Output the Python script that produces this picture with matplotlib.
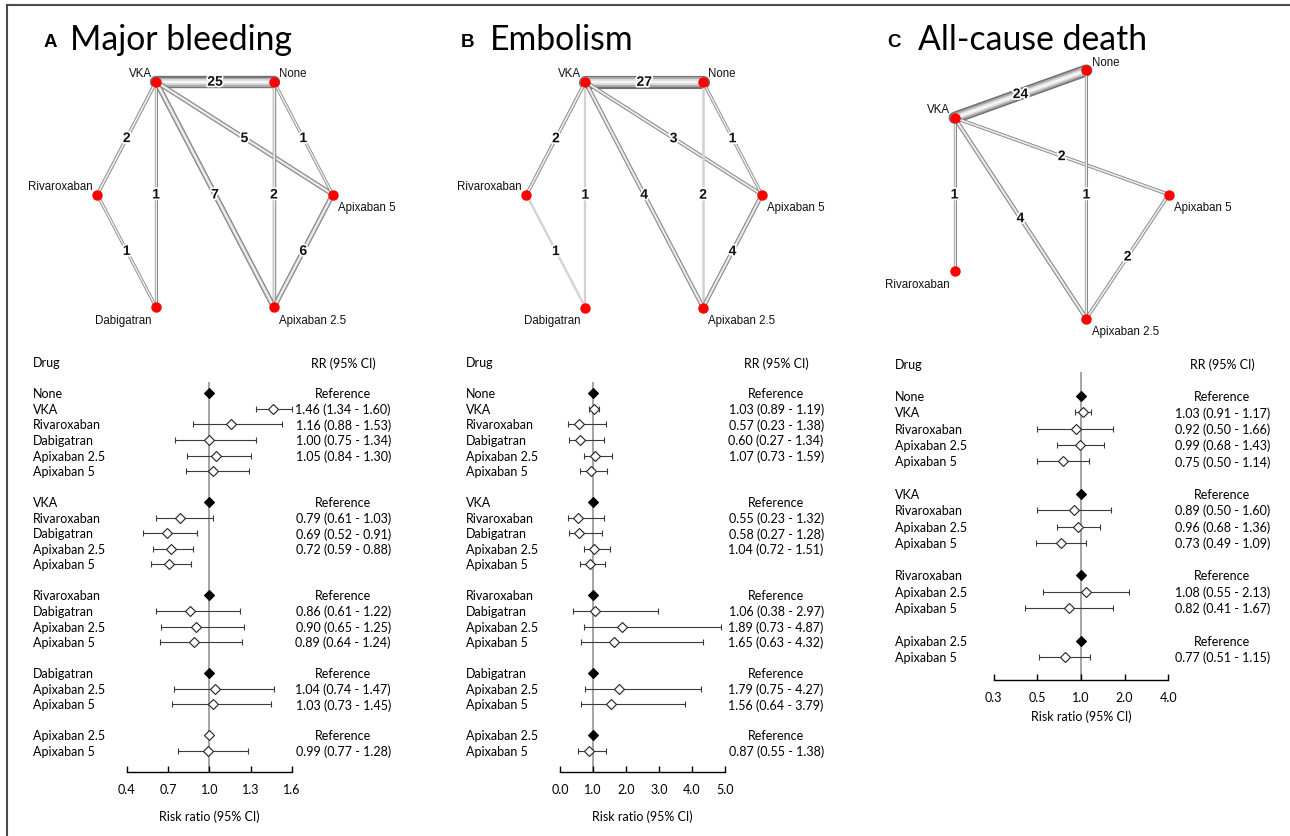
import matplotlib
matplotlib.use('Agg')
import matplotlib.pyplot as plt
import matplotlib.patheffects as pe
from matplotlib.lines import Line2D
from matplotlib.ticker import NullLocator
from matplotlib.transforms import blended_transform_factory
import numpy as np

W, H = 1290, 837
nan = np.nan
plt.rcParams['font.family'] = ['Lato', 'DejaVu Sans']
ARIAL = ['Liberation Sans', 'DejaVu Sans']

#%% network data
hex_names = ['VKA', 'None', 'Apixaban 5', 'Apixaban 2.5', 'Dabigatran', 'Rivaroxaban']
hex_x = [-0.5, 0.5, 1.0, 0.5, -0.5, -1.0]
hex_y = [1.0, 1.0, 0.0, -1.0, -1.0, 0.0]
hex_place = ['ul', 'ur', 'lr', 'lr', 'll', 'ul']

pairs_ab = [('VKA', 'None'), ('VKA', 'Rivaroxaban'), ('VKA', 'Dabigatran'), ('VKA', 'Apixaban 2.5'),
            ('VKA', 'Apixaban 5'), ('None', 'Apixaban 5'), ('None', 'Apixaban 2.5'),
            ('Rivaroxaban', 'Dabigatran'), ('Apixaban 5', 'Apixaban 2.5')]
studies_a = [25, 2, 1, 7, 5, 1, 2, 1, 6]
light_a = [0, 0, 0, 0, 0, 0, 0, 0, 0]
studies_b = [27, 2, 1, 4, 3, 1, 2, 1, 4]
light_b = [0, 0, 1, 0, 0, 0, 1, 1, 0]

c_names = ['None', 'VKA', 'Apixaban 5', 'Rivaroxaban', 'Apixaban 2.5']
c_x = [0.22, -0.9, 0.92, -0.9, 0.22]
c_y = [1.1, 0.68, 0.0, -0.68, -1.1]
c_place = ['ur', 'ul', 'lr', 'll', 'lr']
pairs_c = [('VKA', 'None'), ('VKA', 'Apixaban 5'), ('VKA', 'Rivaroxaban'), ('VKA', 'Apixaban 2.5'),
           ('None', 'Apixaban 2.5'), ('Apixaban 5', 'Apixaban 2.5')]
studies_c = [24, 2, 1, 4, 1, 2]
light_c = [0, 0, 0, 0, 0, 0]

#%% forest data  (kind: r = reference, o = reference open marker, e = estimate, n = estimate w/o text)
ab_rows = ['None', 'VKA', 'Rivaroxaban', 'Dabigatran', 'Apixaban 2.5', 'Apixaban 5', '',
           'VKA', 'Rivaroxaban', 'Dabigatran', 'Apixaban 2.5', 'Apixaban 5', '',
           'Rivaroxaban', 'Dabigatran', 'Apixaban 2.5', 'Apixaban 5', '',
           'Dabigatran', 'Apixaban 2.5', 'Apixaban 5', '',
           'Apixaban 2.5', 'Apixaban 5']

a_kind = ['r', 'e', 'e', 'e', 'e', 'n', '', 'r', 'e', 'e', 'e', 'n', '',
          'r', 'e', 'e', 'e', '', 'r', 'e', 'e', '', 'o', 'e']
a_rr = [1.00, 1.46, 1.16, 1.00, 1.05, 1.03, nan, 1.00, 0.79, 0.69, 0.72, 0.71, nan,
        1.00, 0.86, 0.90, 0.89, nan, 1.00, 1.04, 1.03, nan, 1.00, 0.99]
a_lo = [nan, 1.34, 0.88, 0.75, 0.84, 0.83, nan, nan, 0.61, 0.52, 0.59, 0.58, nan,
        nan, 0.61, 0.65, 0.64, nan, nan, 0.74, 0.73, nan, nan, 0.77]
a_hi = [nan, 1.60, 1.53, 1.34, 1.30, 1.29, nan, nan, 1.03, 0.91, 0.88, 0.87, nan,
        nan, 1.22, 1.25, 1.24, nan, nan, 1.47, 1.45, nan, nan, 1.28]

b_kind = ['r', 'e', 'e', 'e', 'e', 'n', '', 'r', 'e', 'e', 'e', 'n', '',
          'r', 'e', 'e', 'e', '', 'r', 'e', 'e', '', 'r', 'e']
b_rr = [1.00, 1.03, 0.57, 0.60, 1.07, 0.95, nan, 1.00, 0.55, 0.58, 1.04, 0.90, nan,
        1.00, 1.06, 1.89, 1.65, nan, 1.00, 1.79, 1.56, nan, 1.00, 0.87]
b_lo = [nan, 0.89, 0.23, 0.27, 0.73, 0.62, nan, nan, 0.23, 0.27, 0.72, 0.62, nan,
        nan, 0.38, 0.73, 0.63, nan, nan, 0.75, 0.64, nan, nan, 0.55]
b_hi = [nan, 1.19, 1.38, 1.34, 1.59, 1.41, nan, nan, 1.32, 1.28, 1.51, 1.35, nan,
        nan, 2.97, 4.87, 4.32, nan, nan, 4.27, 3.79, nan, nan, 1.38]

c_rows = ['None', 'VKA', 'Rivaroxaban', 'Apixaban 2.5', 'Apixaban 5', '',
          'VKA', 'Rivaroxaban', 'Apixaban 2.5', 'Apixaban 5', '',
          'Rivaroxaban', 'Apixaban 2.5', 'Apixaban 5', '',
          'Apixaban 2.5', 'Apixaban 5']
c_kind = ['r', 'e', 'e', 'e', 'e', '', 'r', 'e', 'e', 'e', '', 'r', 'e', 'e', '', 'r', 'e']
c_rr = [1.00, 1.03, 0.92, 0.99, 0.75, nan, 1.00, 0.89, 0.96, 0.73, nan,
        1.00, 1.08, 0.82, nan, 1.00, 0.77]
c_lo = [nan, 0.91, 0.50, 0.68, 0.50, nan, nan, 0.50, 0.68, 0.49, nan,
        nan, 0.55, 0.41, nan, nan, 0.51]
c_hi = [nan, 1.17, 1.66, 1.43, 1.14, nan, nan, 1.60, 1.36, 1.09, nan,
        nan, 2.13, 1.67, nan, nan, 1.15]

a_ticks = [0.4, 0.7, 1.0, 1.3, 1.6]
b_ticks = [0.0, 1.0, 2.0, 3.0, 4.0, 5.0]
c_ticks = [0.25, 0.5, 1.0, 2.0, 4.0]
c_ticklabels = ['0.3', '0.5', '1.0', '2.0', '4.0']

fig = plt.figure(figsize=(W / 100, H / 100), dpi=100)


def px_axes(x0, y0, x1, y1):
    return fig.add_axes([x0 / W, 1 - y1 / H, (x1 - x0) / W, (y1 - y0) / H])


def draw_network(ax, names, xs, ys, pairs, studies, light, place):
    pos = dict(zip(names, zip(xs, ys)))
    for (a, b), n, lt in zip(pairs, studies, light):
        (x0, y0), (x1, y1) = pos[a], pos[b]
        w = 1.9 + 0.28 * n
        if lt:
            ax.plot([x0, x1], [y0, y1], color='#d2d2d2', lw=w * 0.75, solid_capstyle='round', zorder=1)
        else:
            for frac, col in [(1.0, '#707070'), (0.75, '#ababab'), (0.45, '#dedede'), (0.18, '#f6f6f6')]:
                ax.plot([x0, x1], [y0, y1], color=col, lw=w * frac, solid_capstyle='round', zorder=1)
        ax.text((x0 + x1) / 2, (y0 + y1) / 2, str(n), ha='center', va='center', family=ARIAL,
                fontsize=10, fontweight='bold', color='#111111', zorder=4,
                path_effects=[pe.Stroke(linewidth=2.4, foreground='white'), pe.Normal()])
    ax.plot(xs, ys, 'o', color='#ff0000', ms=6.5, mec='#ff0000', zorder=3, linestyle='none')
    for name, x, y, pl in zip(names, xs, ys, place):
        dx = -3.2 if pl[1] == 'l' else 3.8
        dy = 6.2 if pl[0] == 'u' else -9.2
        ax.annotate(name, (x, y), xytext=(dx, dy), textcoords='offset points',
                    ha='right' if pl[1] == 'l' else 'left', va='center',
                    family=ARIAL, fontsize=8.3, color='#111111')
    ax.set_xlim(-1.5, 1.5)
    ax.set_ylim(-1.35, 1.35)
    ax.axis('off')


def draw_forest(ax, rows, kind, rr, lo, hi, ylim, ticks, ticklabels, labelpad, log=False):
    y = np.arange(len(rows))
    rr, lo, hi = np.array(rr), np.array(lo), np.array(hi)
    ax.axvline(1.0, color='#8c8c8c', lw=1.1, zorder=0)
    est = np.array([k in ('e', 'n') for k in kind])
    ax.errorbar(rr[est], y[est], xerr=[rr[est] - lo[est], hi[est] - rr[est]], fmt='none',
                ecolor='#3a3a3a', elinewidth=0.8, capsize=2.2, capthick=0.8, zorder=2)
    ref = np.array([k == 'r' for k in kind])
    opn = np.array([k in ('e', 'n', 'o') for k in kind])
    ax.plot(rr[opn], y[opn], 'D', ms=4.8, mfc='white', mec='#222222', mew=0.8, ls='none', zorder=3)
    ax.plot(rr[ref], y[ref], 'D', ms=4.8, mfc='black', mec='black', mew=0.8, ls='none', zorder=3)

    tr = blended_transform_factory(ax.transAxes, ax.transData)
    fs = 9
    ax.text(-0.568, -2, 'Drug', transform=tr, ha='left', va='center', fontsize=fs)
    ax.text(1.31, -2, 'RR (95% CI)', transform=tr, ha='center', va='center', fontsize=fs)
    for i, name in enumerate(rows):
        if not name:
            continue
        ax.text(-0.568, i, name, transform=tr, ha='left', va='center', fontsize=fs)
        if kind[i] in ('r', 'o'):
            txt = 'Reference'
        elif kind[i] == 'e':
            txt = f'{rr[i]:.2f} ({lo[i]:.2f} - {hi[i]:.2f})'
        else:
            txt = ''
        ax.text(1.31, i, txt, transform=tr, ha='center', va='center', fontsize=fs)

    if log:
        ax.set_xscale('log', base=2)
    ax.set_xlim(ticks[0], ticks[-1])
    ax.set_ylim(*ylim)
    ax.set_xticks(ticks)
    ax.set_xticklabels(ticklabels, fontsize=fs)
    ax.xaxis.set_minor_locator(NullLocator())
    ax.set_yticks([])
    for s in ['left', 'right', 'top']:
        ax.spines[s].set_visible(False)
    ax.spines['bottom'].set_linewidth(1.0)
    ax.tick_params(axis='x', direction='in', length=4, width=1.0, pad=8.0, colors='black')
    ax.set_xlabel('Risk ratio (95% CI)', fontsize=fs, labelpad=labelpad)
    ax.patch.set_alpha(0)


# networks
draw_network(px_axes(38.4, 43.2, 391.6, 347.8), hex_names, hex_x, hex_y, pairs_ab, studies_a, light_a, hex_place)
draw_network(px_axes(467.6, 43.4, 820.8, 348.0), hex_names, hex_x, hex_y, pairs_ab, studies_b, light_b, hex_place)
draw_network(px_axes(883.9, 43.2, 1237.1, 347.8), c_names, c_x, c_y, pairs_c, studies_c, light_c, c_place)

# forest plots
draw_forest(px_axes(126.7, 383.3, 292.0, 773.3), ab_rows, a_kind, a_rr, a_lo, a_hi, (24.37, -0.71),
            a_ticks, [f'{t:.1f}' for t in a_ticks], 10)
draw_forest(px_axes(560.0, 383.3, 725.0, 773.3), ab_rows, b_kind, b_rr, b_lo, b_hi, (24.37, -0.71),
            b_ticks, [f'{t:.1f}' for t in b_ticks], 10)
draw_forest(px_axes(993.7, 372.7, 1168.3, 680.7), c_rows, c_kind, c_rr, c_lo, c_hi, (17.4, -1.5),
            c_ticks, c_ticklabels, 5, log=True)

# panel titles
for letter, title, xl, xt in [('A', 'Major bleeding', 44, 70), ('B', 'Embolism', 461, 490),
                              ('C', 'All-cause death', 887, 917.7)]:
    fig.text(xl / W, 1 - 47 / H, letter, family=ARIAL, fontweight='bold', fontsize=13.5, va='baseline')
    fig.text(xt / W, 1 - 50 / H, title, fontsize=24.3, va='baseline')

# frame
fig.add_artist(Line2D([7 / W, 7 / W], [0, 1 - 6 / H], transform=fig.transFigure, color='#4a4a4a', lw=1.5))
fig.add_artist(Line2D([7 / W, 1], [1 - 6 / H, 1 - 6 / H], transform=fig.transFigure, color='#4a4a4a', lw=1.5))

fig.savefig('out.png', dpi=100, facecolor='white')
